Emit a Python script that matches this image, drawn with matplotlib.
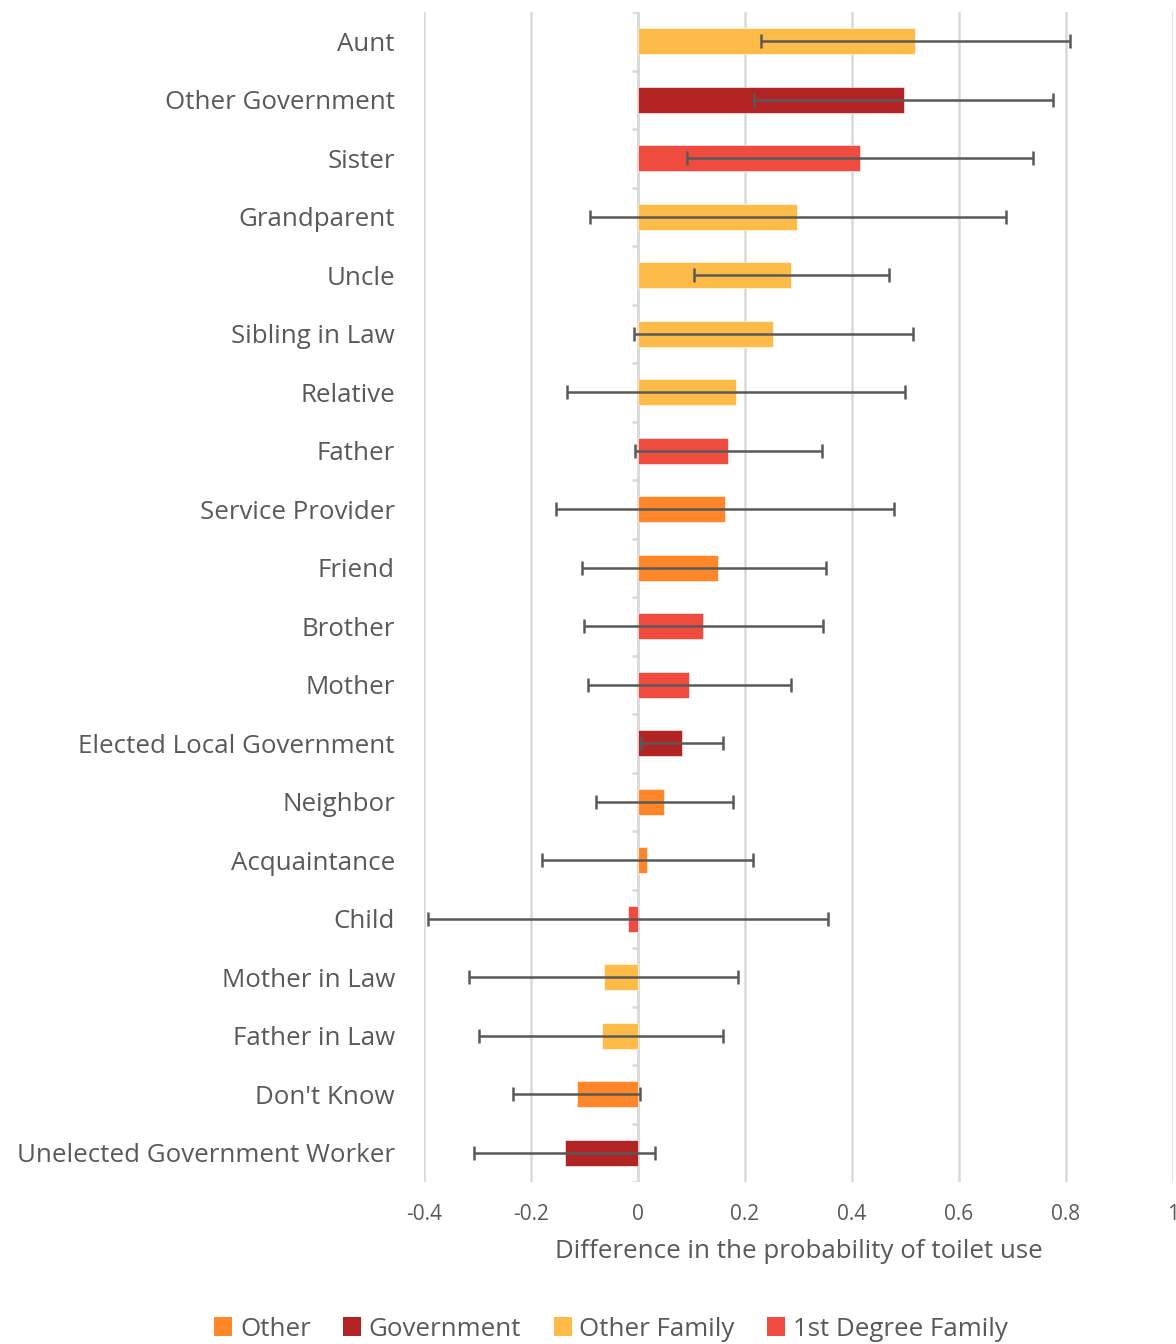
import matplotlib.pyplot as plt
import numpy as np
from matplotlib.patches import Patch

# categories listed top to bottom
labels = ["Aunt", "Other Government", "Sister", "Grandparent", "Uncle",
          "Sibling in Law", "Relative", "Father", "Service Provider", "Friend",
          "Brother", "Mother", "Elected Local Government", "Neighbor",
          "Acquaintance", "Child", "Mother in Law", "Father in Law",
          "Don't Know", "Unelected Government Worker"]
groups = ["Other Family", "Government", "1st Degree Family", "Other Family",
          "Other Family", "Other Family", "Other Family", "1st Degree Family",
          "Other", "Other", "1st Degree Family", "1st Degree Family",
          "Government", "Other", "Other", "1st Degree Family", "Other Family",
          "Other Family", "Other", "Government"]
diff = [0.518, 0.497, 0.415, 0.297, 0.286, 0.252, 0.183, 0.168, 0.163, 0.150,
        0.121, 0.095, 0.082, 0.049, 0.017, -0.019, -0.064, -0.067, -0.114, -0.136]
ci_low = [0.230, 0.217, 0.092, -0.090, 0.105, -0.007, -0.133, -0.006, -0.153, -0.105,
          -0.101, -0.093, 0.005, -0.079, -0.179, -0.393, -0.316, -0.297, -0.234, -0.307]
ci_high = [0.807, 0.776, 0.738, 0.688, 0.469, 0.514, 0.499, 0.344, 0.479, 0.351,
           0.346, 0.286, 0.159, 0.178, 0.215, 0.355, 0.187, 0.159, 0.004, 0.032]

legend_order = ["Other", "Government", "Other Family", "1st Degree Family"]
palette = {"Other": "#FF8629", "Government": "#B22424",
           "Other Family": "#FFBB47", "1st Degree Family": "#EF4B3E"}

plt.rcParams["font.family"] = ["Open Sans", "DejaVu Sans"]
text_col = "#595959"
grid_col = "#D9D9D9"

fig = plt.figure(figsize=(11.76, 13.44), dpi=100)
ax = fig.add_axes([424 / 1176, 1 - 1182 / 1344, (1173 - 424) / 1176, (1182 - 12) / 1344])

n = len(labels)
y = np.arange(n)
diff = np.array(diff)
err = np.vstack([diff - np.array(ci_low), np.array(ci_high) - diff])

ax.barh(y, diff, height=0.45, color=[palette[g] for g in groups],
        edgecolor="white", linewidth=0.4, zorder=3)
ax.errorbar(diff, y, xerr=err, fmt="none", ecolor=text_col, elinewidth=1.8,
            capsize=4.7, capthick=1.8, zorder=4)

ax.set_xlim(-0.4, 1.0)
ax.set_ylim(n - 0.5, -0.5)
ax.set_xticks(np.arange(-0.4, 1.01, 0.2))
ax.set_xticklabels(["-0.4", "-0.2", "0", "0.2", "0.4", "0.6", "0.8", "1"])
ax.set_yticks(y)
ax.set_yticklabels(labels)
ax.tick_params(axis="y", length=0, pad=21, labelsize=18.6, labelcolor=text_col)
ax.tick_params(axis="x", length=0, pad=16, labelsize=15, labelcolor=text_col)
ax.grid(axis="x", color=grid_col, linewidth=1.8, zorder=0)
for s in ax.spines.values():
    s.set_visible(False)

# category axis drawn at zero with small boundary ticks
ax.axvline(0, color=grid_col, linewidth=1.8, zorder=2)
bounds = np.arange(n + 1) - 0.5
ax.hlines(bounds, -0.011, 0, color=grid_col, linewidth=1.8, zorder=2)

ax.set_xlabel("Difference in the probability of toilet use", fontsize=18.6,
              color=text_col, labelpad=10)

handles = [Patch(facecolor=palette[g], label=g) for g in legend_order]
leg = fig.legend(handles=handles, loc="center", bbox_to_anchor=(611 / 1176, 1 - 1329 / 1344),
                 ncol=4, frameon=False, fontsize=18.6, handlelength=0.7, handleheight=0.7,
                 handletextpad=0.3, columnspacing=1.25)
for t in leg.get_texts():
    t.set_color(text_col)

fig.savefig("out.png", dpi=100)
